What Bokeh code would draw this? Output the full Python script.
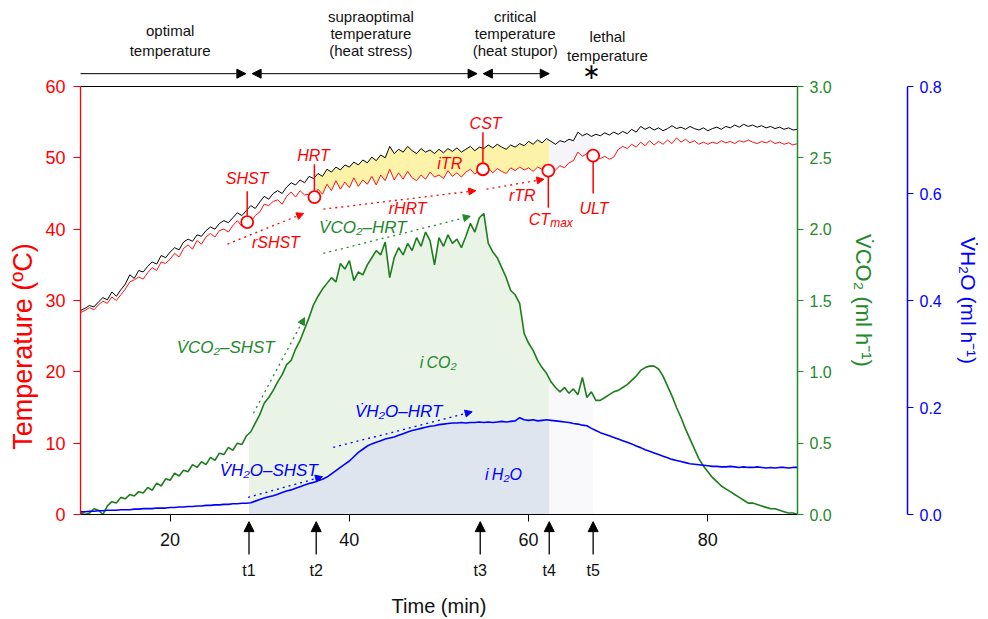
import numpy as np
from bokeh.plotting import figure
from bokeh.models import (Range1d, LinearAxis, FixedTicker, PrintfTickFormatter,
                          Label, Arrow, NormalHead)
from bokeh.embed import file_html
from bokeh.resources import INLINE

# ---------------- data (time step 0.5 min, 10 .. 90) ----------------
time = np.arange(161) * 0.5 + 10.0

# chamber (ambient) temperature, black
temp_ambient = [
    28.6, 28.9, 29.3, 29.1, 29.8, 30.4, 30.1, 31.2, 30.6, 31.5,
    32.3, 33.6, 33.1, 34.2, 34.0, 34.8, 35.4, 35.1, 36.3, 36.0,
    36.8, 37.4, 37.1, 38.2, 38.6, 38.3, 39.2, 39.0, 39.8, 40.3,
    40.0, 40.8, 41.2, 40.9, 41.6, 42.3, 41.9, 42.6, 43.3, 42.9,
    43.8, 44.6, 44.2, 45.0, 45.4, 45.0, 45.9, 46.5, 46.2, 46.9,
    46.5, 47.4, 47.1, 47.8, 47.4, 48.4, 48.0, 48.7, 48.3, 49.0,
    48.7, 49.4, 49.0, 49.7, 49.3, 50.1, 49.6, 50.4, 50.0, 51.6,
    50.6, 51.2, 50.8, 51.6, 51.0, 50.6, 51.3, 50.8, 51.1, 50.6,
    51.2, 50.7, 51.3, 50.9, 51.4, 50.8, 51.2, 51.6, 51.0, 51.5,
    51.3, 51.8, 51.4, 51.9, 51.5, 51.2, 51.8, 51.5, 52.0, 51.7,
    52.3, 51.9, 52.5, 52.1, 52.7, 52.3, 51.9, 52.4, 52.2, 52.6,
    52.4, 53.6, 53.1, 53.4, 53.0, 53.3, 53.1, 53.5, 53.2, 53.6,
    53.3, 53.7, 53.4, 54.0, 53.6, 54.4, 54.0, 54.3, 53.9, 54.2,
    53.8, 54.1, 54.5, 54.1, 54.3, 54.0, 54.4, 54.1, 53.9, 54.2,
    53.8, 54.1, 54.3, 54.0, 54.4, 54.2, 54.6, 54.3, 54.7, 54.4,
    54.6, 54.3, 54.5, 54.2, 54.4, 54.1, 54.3, 54.0, 54.2, 53.9,
    54.0]

# body temperature, red
temp_body = [
    28.3, 28.6, 29.0, 28.7, 29.4, 29.9, 29.6, 30.5, 30.0, 30.8,
    31.6, 32.6, 32.9, 33.3, 33.0, 33.9, 34.6, 34.2, 35.4, 35.2,
    35.8, 36.6, 36.1, 37.3, 37.8, 37.2, 38.4, 37.9, 38.9, 39.4,
    38.9, 39.8, 40.0, 39.6, 40.5, 41.2, 40.4, 41.3, 41.0, 41.9,
    42.4, 43.5, 43.3, 43.9, 44.1, 43.5, 44.6, 45.2, 44.5, 45.4,
    44.8, 44.9, 44.5, 45.6, 44.9, 46.3, 45.4, 46.8, 45.6, 46.6,
    45.8, 47.2, 46.0, 46.9, 46.3, 47.4, 46.2, 47.6, 46.8, 48.4,
    46.9, 47.9, 47.0, 48.1, 47.2, 46.8, 47.6, 47.0, 48.0, 47.3,
    47.6, 47.1, 48.2, 47.4, 47.9, 47.3, 48.0, 48.4, 47.7, 48.3,
    48.0, 48.6, 47.9, 48.5, 48.1, 47.8, 48.6, 48.2, 48.7, 48.3,
    48.6, 48.1, 48.7, 48.4, 48.6, 48.2, 48.3, 48.9, 48.6, 49.3,
    49.6, 50.8, 50.2, 50.6, 50.3, 50.1, 49.9, 50.2, 49.8, 50.1,
    51.2, 51.6, 51.3, 51.9, 51.5, 52.2, 51.7, 52.4, 51.8, 52.3,
    51.9, 52.5, 52.0, 52.8, 52.2, 52.6, 52.1, 52.4, 51.9, 52.2,
    51.9, 52.2, 52.0, 52.4, 52.1, 52.3, 52.0, 52.4, 52.2, 52.5,
    52.2, 52.0, 52.3, 52.1, 52.4, 52.0, 52.2, 51.9, 52.1, 51.8,
    52.0]

# CO2 release rate (ml/h), green
vco2 = [
    0.01, 0.00, 0.01, 0.04, 0.03, 0.00, 0.06, 0.09, 0.08, 0.12,
    0.11, 0.14, 0.13, 0.16, 0.15, 0.19, 0.17, 0.22, 0.20, 0.25,
    0.24, 0.29, 0.27, 0.31, 0.30, 0.35, 0.33, 0.37, 0.35, 0.40,
    0.38, 0.43, 0.42, 0.47, 0.45, 0.50, 0.49, 0.55, 0.58, 0.64,
    0.70, 0.78, 0.82, 0.87, 0.93, 0.98, 1.05, 1.08, 1.16, 1.22,
    1.30, 1.38, 1.47, 1.53, 1.58, 1.62, 1.66, 1.63, 1.76, 1.72,
    1.78, 1.64, 1.70, 1.68, 1.75, 1.80, 1.85, 1.82, 1.91, 1.66,
    1.80, 1.87, 1.82, 1.90, 1.85, 1.94, 1.88, 1.98, 1.92, 1.75,
    1.94, 1.88, 1.96, 1.90, 1.93, 1.87, 1.95, 2.04, 1.98, 2.08,
    2.11, 1.90, 1.84, 1.80, 1.73, 1.66, 1.57, 1.54, 1.48, 1.27,
    1.20, 1.15, 1.08, 1.03, 0.99, 0.93, 0.89, 0.86, 0.89, 0.85,
    0.88, 0.84, 0.96, 0.82, 0.86, 0.80, 0.80, 0.82, 0.84, 0.86,
    0.87, 0.89, 0.91, 0.94, 0.97, 1.01, 1.03, 1.04, 1.04, 1.02,
    0.97, 0.90, 0.83, 0.75, 0.68, 0.60, 0.53, 0.46, 0.39, 0.34,
    0.30, 0.26, 0.23, 0.20, 0.18, 0.16, 0.14, 0.12, 0.10, 0.08,
    0.08, 0.07, 0.06, 0.05, 0.04, 0.04, 0.03, 0.02, 0.01, 0.01,
    0.00]

# water loss rate (ml/h), blue
vh2o = [
    0.005, 0.005, 0.006, 0.006, 0.007, 0.007, 0.008, 0.008, 0.008, 0.009,
    0.009, 0.009, 0.010, 0.010, 0.011, 0.011, 0.011, 0.012, 0.012, 0.012,
    0.013, 0.013, 0.014, 0.014, 0.015, 0.015, 0.016, 0.016, 0.017, 0.017,
    0.018, 0.018, 0.019, 0.019, 0.020, 0.020, 0.021, 0.021, 0.022, 0.025,
    0.028, 0.031, 0.033, 0.035, 0.038, 0.041, 0.044, 0.046, 0.049, 0.052,
    0.055, 0.058, 0.060, 0.063, 0.066, 0.070, 0.076, 0.082, 0.088, 0.094,
    0.100, 0.108, 0.116, 0.122, 0.128, 0.132, 0.135, 0.138, 0.141, 0.143,
    0.145, 0.148, 0.151, 0.154, 0.157, 0.159, 0.161, 0.163, 0.165, 0.166,
    0.168, 0.169, 0.170, 0.171, 0.171, 0.172, 0.171, 0.172, 0.172, 0.173,
    0.172, 0.173, 0.172, 0.173, 0.174, 0.173, 0.174, 0.175, 0.181, 0.177,
    0.176, 0.177, 0.175, 0.176, 0.177, 0.176, 0.175, 0.174, 0.173, 0.172,
    0.170, 0.169, 0.167, 0.166, 0.161, 0.157, 0.153, 0.150, 0.147, 0.144,
    0.141, 0.138, 0.135, 0.132, 0.128, 0.125, 0.121, 0.118, 0.115, 0.112,
    0.109, 0.106, 0.103, 0.101, 0.099, 0.097, 0.095, 0.094, 0.093, 0.092,
    0.091, 0.090, 0.090, 0.089, 0.089, 0.090, 0.089, 0.088, 0.089, 0.088,
    0.088, 0.089, 0.088, 0.087, 0.088, 0.087, 0.088, 0.088, 0.087, 0.088,
    0.088]

# event times t1..t5 (min)
event_labels = ["t1", "t2", "t3", "t4", "t5"]
event_times = [28.8, 36.3, 54.6, 62.3, 67.2]

# thermal limit points on body temperature
limit_names = ["SHST", "HRT", "CST", "CTmax", "ULT"]
limit_times = [28.6, 36.1, 54.9, 62.2, 67.2]
limit_temps = [41.0, 44.5, 48.4, 48.2, 50.3]

# phase labels on top
phase_lines = [
    (["optimal", "temperature"], 20.0),
    (["supraoptimal", "temperature", "(heat stress)"], 42.4),
    (["critical", "temperature", "(heat stupor)"], 58.5),
    (["lethal", "temperature"], 68.8),
]

x_ticks = [20, 40, 60, 80]
temp_ticks = [0, 10, 20, 30, 40, 50, 60]
co2_ticks = [0.0, 0.5, 1.0, 1.5, 2.0, 2.5, 3.0]
h2o_ticks = [0.0, 0.2, 0.4, 0.6, 0.8]

# ---------------- style / geometry ----------------
FONT = "Liberation Sans"
RED = "#ff0000"
GREEN = "#23892a"
GREEN_LINE = "#1c7d1c"
BLUE = "#0000ff"
W, H = 988, 619
PX_L, PX_R, PX_T, PX_B = 80, 797, 86, 514      # data box in page pixels
X0, X1, Y0, Y1 = 10.0, 90.0, 0.0, 60.0
sx = (PX_R - PX_L) / (X1 - X0)
sy = (PX_B - PX_T) / (Y1 - Y0)
xr = Range1d(X0 - PX_L / sx, X1 + (W - PX_R) / sx)
y_lo = Y0 - (H - PX_B) / sy
y_hi = Y1 + PX_T / sy
yr = Range1d(y_lo, y_hi)
co2_f = 3.0 / 60.0
h2o_f = 0.8 / 60.0
X_BLUE = X1 + (907 - PX_R) / sx

t = np.array(time)
amb = np.array(temp_ambient)
body = np.array(temp_body)
co2 = np.array(vco2)
h2o = np.array(vh2o)
T1, T2, T3, T4, T5 = event_times

p = figure(width=W, height=H, x_range=xr, y_range=yr,
           output_backend="svg", toolbar_location=None,
           min_border_left=0, min_border_top=0, min_border_right=0, min_border_bottom=0,
           x_axis_location=None, y_axis_location=None)
p.extra_y_ranges = {"co2": Range1d(y_lo * co2_f, y_hi * co2_f),
                    "h2o": Range1d(y_lo * h2o_f, y_hi * h2o_f)}
p.xgrid.visible = False
p.ygrid.visible = False
p.outline_line_color = None
p.background_fill_color = "white"
p.border_fill_color = "white"


def band(lo, hi, upper, lower=None):
    m = (t > lo) & (t < hi)
    xs = np.concatenate([[lo], t[m], [hi]])
    up = np.concatenate([[np.interp(lo, t, upper)], upper[m], [np.interp(hi, t, upper)]])
    if lower is None:
        lo_arr = np.zeros_like(up)
    else:
        lo_arr = np.concatenate([[np.interp(lo, t, lower)], lower[m], [np.interp(hi, t, lower)]])
    return xs, lo_arr, up


# shaded integrals
xs, a, b = band(T1, T4, co2)
p.varea(x=xs, y1=a, y2=b, fill_color="#e9f4e7", y_range_name="co2")
xs, a, b = band(T4, T5, co2)
p.varea(x=xs, y1=a, y2=b, fill_color="#f9f9fb", y_range_name="co2")
xs, a, b = band(T1, T4, h2o)
p.varea(x=xs, y1=a, y2=b, fill_color="#dfe5ef", y_range_name="h2o")
xs, a, b = band(T2, T4, amb, body)
p.varea(x=xs, y1=a, y2=b, fill_color="#fdf3a8")
xs, a, b = band(T4, T5, amb, body)
p.varea(x=xs, y1=a, y2=b, fill_color="#f5f4f8")

# top border of the data box
p.segment(x0=[X0], y0=[Y1], x1=[X1], y1=[Y1], line_color="black", line_width=1)

# curves
p.line(t, amb, line_color="black", line_width=1)
p.line(t, body, line_color="#ff1010", line_width=1)
p.line(t, co2, line_color=GREEN_LINE, line_width=1.6, y_range_name="co2")
p.line(t, h2o, line_color=BLUE, line_width=1.6, y_range_name="h2o")

# limit markers with leader lines
up_names = {"SHST": 45.3, "HRT": 49.1, "CST": 53.6}
down_names = {"CTmax": 43.0, "ULT": 45.0}
for n, x, y in zip(limit_names, limit_times, limit_temps):
    if n in up_names:
        p.segment(x0=[x], y0=[y + 0.9], x1=[x], y1=[up_names[n]], line_color=RED, line_width=1.5)
    else:
        p.segment(x0=[x], y0=[y - 0.9], x1=[x], y1=[down_names[n]], line_color=RED, line_width=1.5)
p.scatter(x=limit_times, y=limit_temps, marker="circle", size=12, fill_color="white",
          line_color=RED, line_width=1.8)


def lab(x, y, text, color, size, style="italic", align="center", font=FONT, **kw):
    p.add_layout(Label(x=x, y=y, text=text, text_color=color, text_font=font,
                       text_font_size=f"{size}px", text_font_style=style,
                       text_align=align, text_baseline="middle", **kw))


def arr(x0, y0, x1, y1, color, dash="dotted", width=1.3, size=7, both=False):
    head = dict(size=size, fill_color=color, line_color=color)
    p.add_layout(Arrow(x_start=x0, y_start=y0, x_end=x1, y_end=y1,
                       line_color=color, line_width=width, line_dash=dash,
                       end=NormalHead(**head),
                       start=NormalHead(**head) if both else None))


# red annotations
lab(28.6, 47.1, "SHST", RED, 16)
lab(36.0, 50.3, "HRT", RED, 16)
lab(55.2, 54.8, "CST", RED, 16)
lab(51.2, 49.2, "iTR", RED, 16)
lab(31.8, 38.1, "rSHST", RED, 16)
lab(46.5, 42.9, "rHRT", RED, 16)
lab(59.3, 44.7, "rTR", RED, 16)
lab(62.4, 41.4, "CT", RED, 16, align="right")
lab(62.4, 40.9, "max", RED, 12, align="left")
lab(67.3, 42.9, "ULT", RED, 16)
arr(26.4, 37.9, 34.9, 42.2, RED)
arr(37.1, 42.8, 54.1, 45.4, RED)
arr(55.3, 45.6, 61.7, 47.0, RED)

# green annotations
lab(41.5, 40.2, "V\u0307CO\u2082\u2013HRT", GREEN, 17)
lab(26.2, 23.4, "V\u0307CO\u2082\u2013SHST", GREEN, 17)
lab(49.9, 21.3, "i\u2009CO\u2082", GREEN, 16)
arr(37.1, 36.6, 53.5, 41.8, GREEN)
arr(29.3, 14.2, 35.0, 27.6, GREEN)

# blue annotations
lab(45.5, 14.5, "V\u0307H\u2082O\u2013HRT", BLUE, 17)
lab(31.0, 6.2, "V\u0307H\u2082O\u2013SHST", BLUE, 17)
lab(57.2, 5.6, "i\u2009H\u2082O", BLUE, 16)
arr(38.2, 9.4, 53.7, 14.4, BLUE)
arr(28.7, 2.4, 37.0, 5.3, BLUE)

# phase arrows above the data box
TOP_Y = 61.8
arr(X0, TOP_Y, T1 - 0.35, TOP_Y, "black", dash="solid", width=1, size=9)
arr(T1 + 0.35, TOP_Y, T3 - 0.35, TOP_Y, "black", dash="solid", width=1, size=9, both=True)
arr(T3 + 0.35, TOP_Y, T4, TOP_Y, "black", dash="solid", width=1, size=9, both=True)
lab(67.0, 62.1, "\u2217", "black", 22, style="normal", font="DejaVu Sans")
for lines, xc in phase_lines:
    n = len(lines)
    ys = [69.8, 67.4, 65.0] if n == 3 else [67.8, 65.0]
    if lines[0] == "lethal":
        ys = [67.0, 64.4]
    for txt, yy in zip(lines, ys):
        lab(xc, yy, txt, "#111111", 15, style="normal")

# event arrows below the axis
for name, x in zip(event_labels, event_times):
    arr(x, -5.6, x, -1.0, "black", dash="solid", width=1.3, size=10)
    lab(x, -7.8, name, "#111111", 16, style="normal")

# temperature axis title (placed like the reference, below the axis middle)
lab(X0 - 58 / sx, (PX_B - 346) / sy, "Temperature (\u00baC)", RED, 27,
    style="normal", angle=np.pi / 2)

# ---------------- axes (fixed at the data box edges) ----------------
xa = LinearAxis(fixed_location=Y0, bounds=(X0, X1), ticker=FixedTicker(ticks=x_ticks),
                axis_label="Time (min)", axis_label_text_font=FONT,
                axis_label_text_font_size="20px", axis_label_text_font_style="normal",
                axis_label_text_color="#111111", axis_label_standoff=46,
                major_label_text_font=FONT, major_label_text_font_size="18px",
                major_label_text_color="#111111", major_label_standoff=11,
                major_tick_out=7, major_tick_in=0, minor_tick_line_color=None,
                axis_line_color="black")
p.add_layout(xa, "below")

ya = LinearAxis(fixed_location=X0, bounds=(Y0, Y1), ticker=FixedTicker(ticks=temp_ticks),
                major_label_text_font=FONT, major_label_text_font_size="18px",
                major_label_text_color=RED, major_label_standoff=8,
                major_tick_out=7, major_tick_in=0, major_tick_line_color=RED,
                minor_tick_line_color=None, axis_line_color=RED, axis_line_width=1.3)
p.add_layout(ya, "left")

ax_co2 = LinearAxis(y_range_name="co2", fixed_location=X1, bounds=(0.0, 3.0),
                    ticker=FixedTicker(ticks=co2_ticks),
                    formatter=PrintfTickFormatter(format="%.1f"),
                    axis_label="V\u0307CO\u2082 (ml h\u207b\u00b9)",
                    axis_label_text_font=FONT, axis_label_text_font_size="22px",
                    axis_label_text_font_style="normal", axis_label_text_color=GREEN,
                    axis_label_standoff=16,
                    major_label_text_font=FONT, major_label_text_font_size="16px",
                    major_label_text_color=GREEN, major_label_standoff=6,
                    major_tick_out=6, major_tick_in=0, major_tick_line_color=GREEN,
                    minor_tick_line_color=None, axis_line_color=GREEN, axis_line_width=1.5)
p.add_layout(ax_co2, "right")

ax_h2o = LinearAxis(y_range_name="h2o", fixed_location=X_BLUE, bounds=(0.0, 0.8),
                    ticker=FixedTicker(ticks=h2o_ticks),
                    formatter=PrintfTickFormatter(format="%.1f"),
                    axis_label="V\u0307H\u2082O (ml h\u207b\u00b9)",
                    axis_label_text_font=FONT, axis_label_text_font_size="21px",
                    axis_label_text_font_style="normal", axis_label_text_color=BLUE,
                    axis_label_standoff=12,
                    major_label_text_font=FONT, major_label_text_font_size="16px",
                    major_label_text_color=BLUE, major_label_standoff=6,
                    major_tick_out=6, major_tick_in=0, major_tick_line_color=BLUE,
                    minor_tick_line_color=None, axis_line_color=BLUE, axis_line_width=1.5)
p.add_layout(ax_h2o, "right")

open("out.html", "w").write(file_html(p, INLINE))
